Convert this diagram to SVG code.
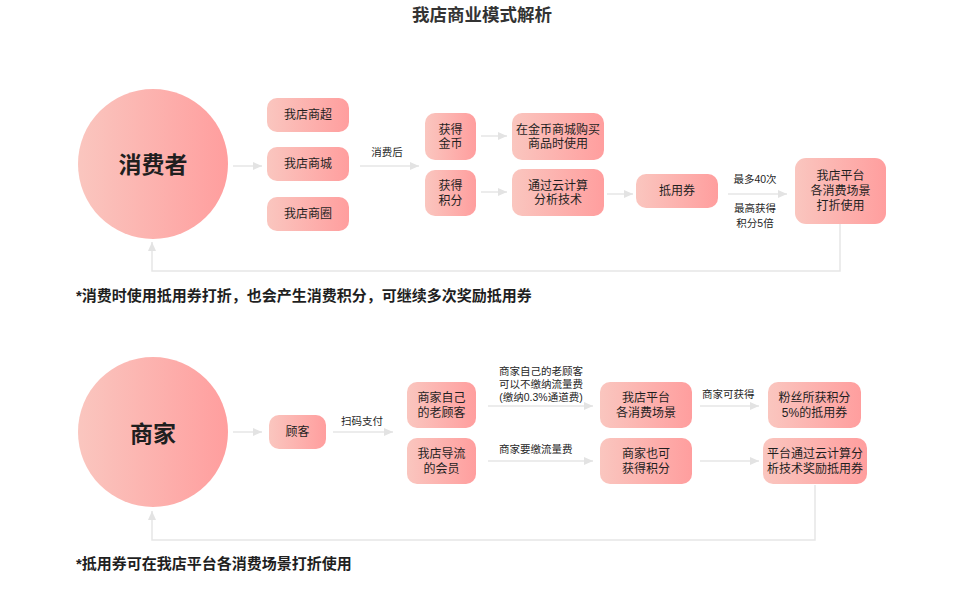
<svg xmlns="http://www.w3.org/2000/svg" width="960" height="594" viewBox="0 0 960 594">
<defs>
<linearGradient id="pink" x1="0" y1="0" x2="1" y2="0">
<stop offset="0" stop-color="#FAC6BF"/>
<stop offset="1" stop-color="#FF9E9E"/>
</linearGradient>
<marker id="arr" markerUnits="userSpaceOnUse" markerWidth="10" markerHeight="10" viewBox="0 0 10 10" refX="9" refY="5" orient="auto">
<path d="M0,1 L9,5 L0,9 Z" fill="#E3E3E3"/>
</marker>
<style>
text{font-family:"Liberation Sans","Noto Sans CJK SC",sans-serif;fill:#1f1f1f;dominant-baseline:central}
.box{fill:url(#pink)}
.bt{font-size:12px;text-anchor:middle}
.ct{font-size:23px;font-weight:bold;text-anchor:middle}
.lb{font-size:10.5px}
.lc{font-size:10.5px;text-anchor:middle}
.note{font-size:15px;font-weight:bold}
.title{font-size:17.5px;font-weight:bold;text-anchor:middle;fill:#333}
.cn{fill:none;stroke:#E6E6E6;stroke-width:1.5}
</style>
</defs>
<rect width="960" height="594" fill="#fff"/>
<text class="title" x="482" y="15">我店商业模式解析</text>

<g id="connectors">
<line class="cn" x1="233" y1="166" x2="262" y2="166" marker-end="url(#arr)"/>
<line class="cn" x1="360" y1="166" x2="419" y2="166" marker-end="url(#arr)"/>
<line class="cn" x1="481" y1="136" x2="507" y2="136" marker-end="url(#arr)"/>
<line class="cn" x1="481" y1="192" x2="507" y2="192" marker-end="url(#arr)"/>
<line class="cn" x1="607" y1="194" x2="633" y2="194" marker-end="url(#arr)"/>
<line class="cn" x1="728" y1="194" x2="787" y2="194" marker-end="url(#arr)"/>
<path class="cn" d="M840 224 V271 H152 V242" marker-end="url(#arr)"/>
<line class="cn" x1="233" y1="432" x2="262" y2="432" marker-end="url(#arr)"/>
<line class="cn" x1="333" y1="432" x2="393" y2="432" marker-end="url(#arr)"/>
<line class="cn" x1="488" y1="406" x2="593" y2="406" marker-end="url(#arr)"/>
<line class="cn" x1="488" y1="461" x2="593" y2="461" marker-end="url(#arr)"/>
<line class="cn" x1="700" y1="406" x2="759" y2="406" marker-end="url(#arr)"/>
<line class="cn" x1="700" y1="461" x2="759" y2="461" marker-end="url(#arr)"/>
<path class="cn" d="M815 485 V540 H152 V511" marker-end="url(#arr)"/>
<text class="lc" x="387" y="152">消费后</text>
<text class="lc" x="755" y="179">最多40次</text>
<text class="lc" x="755" y="208">最高获得<tspan x="755" dy="15">积分5倍</tspan></text>
<text class="lc" x="362" y="421">扫码支付</text>
<text class="lc" x="541" y="371">商家自己的老顾客<tspan x="541" dy="13">可以不缴纳流量费</tspan><tspan x="541" dy="13">(缴纳0.3%通道费)</tspan></text>
<text class="lb" x="499" y="449">商家要缴流量费</text>
<text class="lb" x="702" y="394">商家可获得</text>
</g>

<g id="consumer">
<circle class="box" cx="153" cy="164" r="75"/>
<text class="ct" x="153" y="165">消费者</text>
</g>
<g id="n-chao"><rect class="box" x="267" y="98" width="82" height="34" rx="10"/><text class="bt" x="308" y="115">我店商超</text></g>
<g id="n-cheng"><rect class="box" x="267" y="147" width="82" height="34" rx="10"/><text class="bt" x="308" y="164">我店商城</text></g>
<g id="n-quan"><rect class="box" x="267" y="197" width="82" height="34" rx="10"/><text class="bt" x="308" y="214">我店商圈</text></g>
<g id="n-jinbi"><rect class="box" x="425" y="113" width="51" height="47" rx="10"/><text class="bt" x="450.5" y="129.5">获得<tspan x="450.5" dy="14.5">金币</tspan></text></g>
<g id="n-jifen"><rect class="box" x="425" y="170" width="51" height="46" rx="10"/><text class="bt" x="450.5" y="186">获得<tspan x="450.5" dy="14.5">积分</tspan></text></g>
<g id="n-goumai"><rect class="box" x="512" y="113" width="92" height="47" rx="10"/><text class="bt" x="558" y="129.5">在金币商城购买<tspan x="558" dy="14.5">商品时使用</tspan></text></g>
<g id="n-yunjisuan"><rect class="box" x="512" y="169" width="92" height="47" rx="10"/><text class="bt" x="558" y="185.5">通过云计算<tspan x="558" dy="14.5">分析技术</tspan></text></g>
<g id="n-diyongquan"><rect class="box" x="636" y="174" width="82" height="34" rx="10"/><text class="bt" x="677" y="191">抵用券</text></g>
<g id="n-pingtai1"><rect class="box" x="795" y="158" width="91" height="66" rx="11"/><text class="bt" x="840.5" y="176">我店平台<tspan x="840.5" dy="15">各消费场景</tspan><tspan x="840.5" dy="15">打折使用</tspan></text></g>

<g id="merchant">
<circle class="box" cx="153" cy="432" r="75"/>
<text class="ct" x="153" y="434">商家</text>
</g>
<g id="n-guke"><rect class="box" x="269" y="415" width="57" height="34" rx="10"/><text class="bt" x="297.5" y="432">顾客</text></g>
<g id="n-laoguke"><rect class="box" x="407" y="382" width="69" height="46" rx="10"/><text class="bt" x="441.5" y="398">商家自己<tspan x="441.5" dy="14.5">的老顾客</tspan></text></g>
<g id="n-huiyuan"><rect class="box" x="407" y="438" width="69" height="46" rx="10"/><text class="bt" x="441.5" y="454">我店导流<tspan x="441.5" dy="14.5">的会员</tspan></text></g>
<g id="n-pingtai2"><rect class="box" x="600" y="382" width="92" height="46" rx="10"/><text class="bt" x="646" y="398">我店平台<tspan x="646" dy="14.5">各消费场景</tspan></text></g>
<g id="n-kehuode"><rect class="box" x="600" y="438" width="92" height="46" rx="10"/><text class="bt" x="646" y="454">商家也可<tspan x="646" dy="14.5">获得积分</tspan></text></g>
<g id="n-fensi"><rect class="box" x="768" y="382" width="93" height="46" rx="10"/><text class="bt" x="814.5" y="398">粉丝所获积分<tspan x="814.5" dy="14.5">5%的抵用券</tspan></text></g>
<g id="n-jiangli"><rect class="box" x="763" y="438" width="104" height="46" rx="10"/><text class="bt" x="815" y="454">平台通过云计算分<tspan x="815" dy="14.5">析技术奖励抵用券</tspan></text></g>

<text class="note" x="76" y="295">*消费时使用抵用券打折，也会产生消费积分，可继续多次奖励抵用券</text>
<text class="note" x="76" y="563">*抵用券可在我店平台各消费场景打折使用</text>
</svg>
